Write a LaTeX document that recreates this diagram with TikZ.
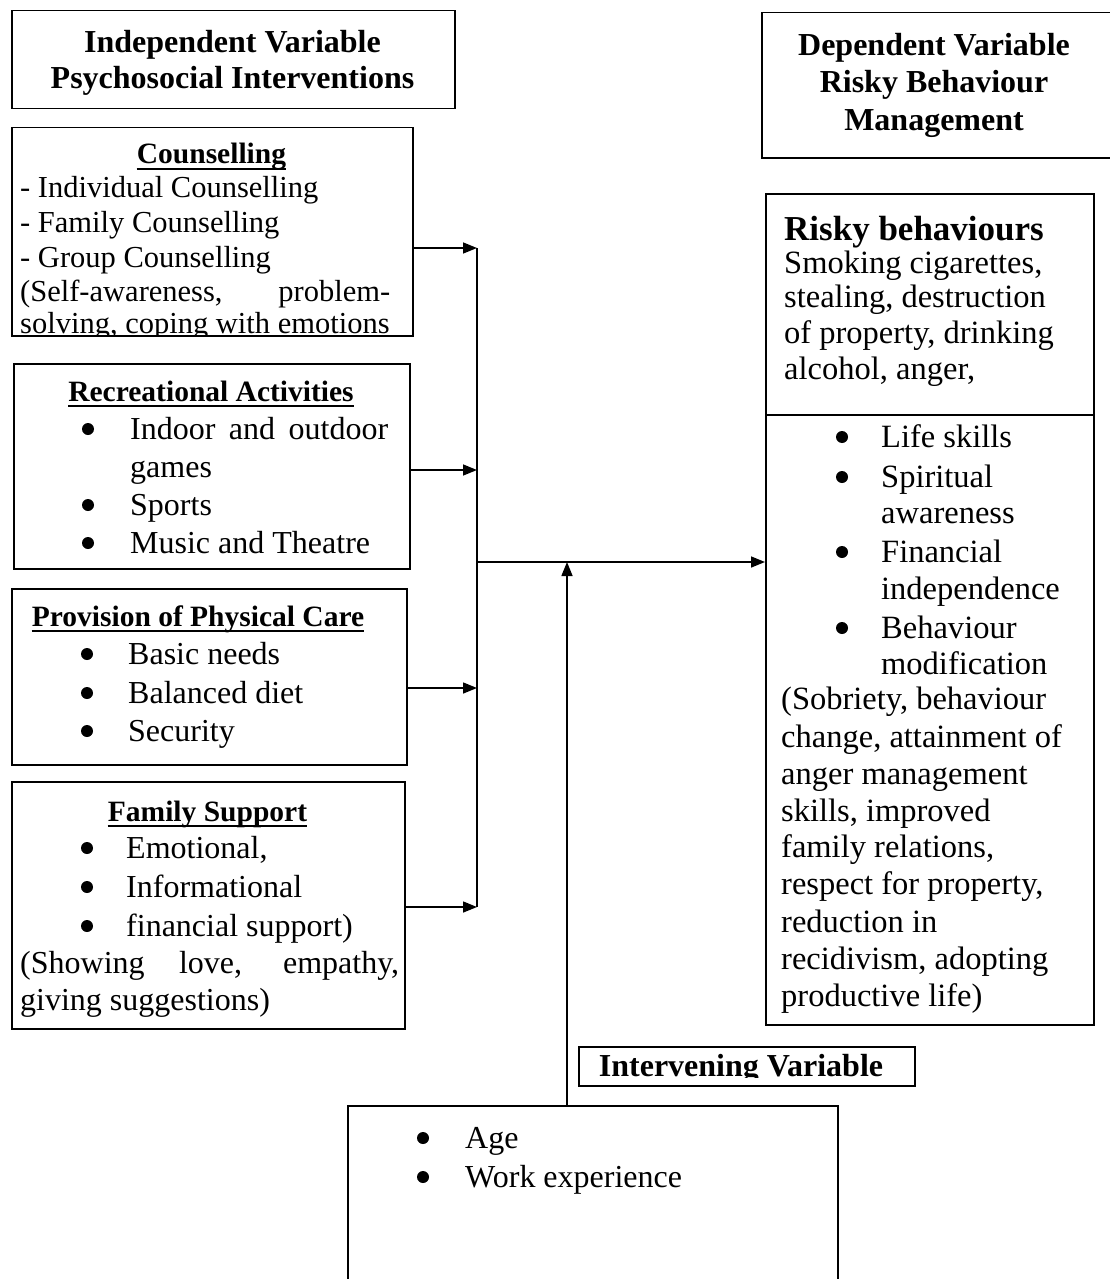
\documentclass[tikz,border=0pt]{standalone}
\usepackage{fontspec}
\setmainfont{Liberation Serif}
\usetikzlibrary{arrows.meta}
\newcommand\myL{\fontsize{30.5}{34}\selectfont}
\newcommand\myB{\fontsize{32}{36}\selectfont}
\newcommand\myH{\fontsize{29.5}{34}\selectfont\bfseries}
\newcommand\myT{\fontsize{32}{36}\selectfont\bfseries}
\newcommand\myR{\fontsize{32.5}{37}\selectfont}
\newcommand\myRH{\fontsize{35}{37}\selectfont\bfseries}
\begin{document}
\begin{tikzpicture}[x=1pt,y=-1pt,
  box/.style={draw, line width=1.5pt, inner sep=0pt, anchor=north west},
  txt/.style={inner sep=0pt, anchor=base west},
  ctxt/.style={inner sep=0pt, anchor=base},
  bul/.style={circle, fill=black, inner sep=0pt, minimum size=12pt, yshift=10pt},
  arr/.style={line width=1.5pt, -{Triangle[length=14pt,width=11pt]}},
  ln/.style={line width=1.5pt},
  ul/.style={line width=2pt}]
\useasboundingbox (0,0) rectangle (1109,1279);

% boxes
\node[box, minimum width=443pt, minimum height=98pt] (iv) at (11,10) {};
\node[box, minimum width=349pt, minimum height=145pt] (dv) at (761,12) {};
\node[box, minimum width=401pt, minimum height=208pt] (couns) at (11,127) {};
\node[box, minimum width=396pt, minimum height=205pt] (recr) at (13,363) {};
\node[box, minimum width=395pt, minimum height=176pt] (phys) at (11,588) {};
\node[box, minimum width=393pt, minimum height=247pt] (fam) at (11,781) {};
\node[box, minimum width=328pt, minimum height=831pt] (risky) at (765,193) {};
\node[box, minimum width=336pt, minimum height=39pt] (ivlab) at (578,1046) {};
\node[box, minimum width=490pt, minimum height=200pt] (ivbox) at (347,1105) {};

\draw[ln] (risky.west |- 0,415) -- (risky.east |- 0,415);

% headers
\node[ctxt] (ivt1) at (232.5,53) {\myT Independent Variable};
\node[ctxt] (ivt2) at (232.5,89) {\myT Psychosocial Interventions};
\node[ctxt] (dvt1) at (934,56) {\myT Dependent Variable};
\node[ctxt] (dvt2) at (934,93) {\myT Risky Behaviour};
\node[ctxt] (dvt3) at (934,131) {\myT Management};

% counselling
\node[ctxt] (ch) at (211.5,164) {\myH Counselling};
\draw[ul] ([yshift=-5pt]ch.base west) -- ([yshift=-5pt]ch.base east);
\node[txt] (c1) at (20,197) {\myL - Individual Counselling};
\node[txt] (c2) at (20,232) {\myL - Family Counselling};
\node[txt] (c3) at (20,267) {\myL - Group Counselling};
\node[txt] (c4) at (20,301) {\myL\makebox[370pt][s]{(Self-awareness, problem-}};
\begin{scope}
\clip (couns.north west) rectangle (couns.south east);
\node[txt] (c5) at (20,333) {\myL solving, coping with emotions};
\end{scope}

% recreational
\node[ctxt] (rh) at (211,401) {\myH Recreational Activities};
\draw[ul] ([yshift=-5pt]rh.base west) -- ([yshift=-5pt]rh.base east);
\node[bul] (rb1) at (88,439) {};
\node[txt] (r1) at (130,439) {\myB\makebox[258pt][s]{Indoor and outdoor}};
\node[txt] (r2) at (130,477) {\myB games};
\node[bul] (rb3) at (88,515) {};
\node[txt] (r3) at (130,515) {\myB Sports};
\node[bul] (rb4) at (88,553) {};
\node[txt] (r4) at (130,553) {\myB Music and Theatre};

% physical care
\node[ctxt] (ph) at (198,626) {\myH Provision of Physical Care};
\draw[ul] ([yshift=-5pt]ph.base west) -- ([yshift=-5pt]ph.base east);
\node[bul] (pb1) at (87,664) {};
\node[txt] (p1) at (128,664) {\myB Basic needs};
\node[bul] (pb2) at (87,703) {};
\node[txt] (p2) at (128,703) {\myB Balanced diet};
\node[bul] (pb3) at (87,741) {};
\node[txt] (p3) at (128,741) {\myB Security};

% family support
\node[ctxt] (fh) at (207.5,821) {\myH Family Support};
\draw[ul] ([yshift=-5pt]fh.base west) -- ([yshift=-5pt]fh.base east);
\node[bul] (fb1) at (87,858) {};
\node[txt] (f1) at (126,858) {\myB Emotional,};
\node[bul] (fb2) at (87,897) {};
\node[txt] (f2) at (126,897) {\myB Informational};
\node[bul] (fb3) at (87,936) {};
\node[txt] (f3) at (126,936) {\myB financial support)};
\node[txt] (f4) at (20,973) {\myB\makebox[379pt][s]{(Showing love, empathy,}};
\node[txt] (f5) at (20,1010) {\myB giving suggestions)};

% risky behaviours
\node[txt] (rbh) at (784,240) {\myRH Risky behaviours};
\node[txt] (k1) at (784,273) {\myR Smoking cigarettes,};
\node[txt] (k2) at (784,307) {\myR stealing, destruction};
\node[txt] (k3) at (784,343) {\myR of property, drinking};
\node[txt] (k4) at (784,379) {\myR alcohol, anger,};
\node[bul] (kb1) at (842,447) {};
\node[txt] (m1) at (881,447) {\myR Life skills};
\node[bul] (kb2) at (842,487) {};
\node[txt] (m2) at (881,487) {\myR Spiritual};
\node[txt] (m3) at (881,523) {\myR awareness};
\node[bul] (kb3) at (842,562) {};
\node[txt] (m4) at (881,562) {\myR Financial};
\node[txt] (m5) at (881,599) {\myR independence};
\node[bul] (kb4) at (842,638) {};
\node[txt] (m6) at (881,638) {\myR Behaviour};
\node[txt] (m7) at (881,674) {\myR modification};
\node[txt] (o1) at (781,709) {\myR (Sobriety, behaviour};
\node[txt] (o2) at (781,747) {\myR change, attainment of};
\node[txt] (o3) at (781,784) {\myR anger management};
\node[txt] (o4) at (781,821) {\myR skills, improved};
\node[txt] (o5) at (781,857) {\myR family relations,};
\node[txt] (o6) at (781,894) {\myR respect for property,};
\node[txt] (o7) at (781,932) {\myR reduction in};
\node[txt] (o8) at (781,969) {\myR recidivism, adopting};
\node[txt] (o9) at (781,1006) {\myR productive life)};

% intervening
\begin{scope}
\clip (ivlab.north west) rectangle ([yshift=9pt]ivlab.south east);
\node[ctxt] (ivl) at (741,1076) {\myT Intervening Variable};
\end{scope}
\node[bul] (ib1) at (423,1148) {};
\node[txt] (i1) at (465,1148) {\myB Age};
\node[bul] (ib2) at (423,1187) {};
\node[txt] (i2) at (465,1187) {\myB Work experience};

% connectors
\coordinate (j1) at (477,248);
\coordinate (j2) at (477,470);
\coordinate (j3) at (477,688);
\coordinate (j4) at (477,907);
\coordinate (jm) at (477,562);
\coordinate (up) at (567,562);
\draw[arr] (couns.east |- j1) -- (j1);
\draw[arr] (recr.east |- j2) -- (j2);
\draw[arr] (phys.east |- j3) -- (j3);
\draw[arr] (fam.east |- j4) -- (j4);
\draw[ln] (j1) -- (j4);
\draw[arr] (jm) -- (risky.west |- jm);
\draw[arr] (ivbox.north -| up) -- (up);
\end{tikzpicture}
\end{document}
